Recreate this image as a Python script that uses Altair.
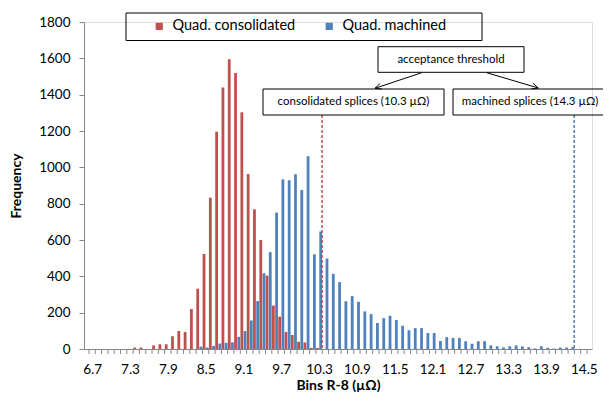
import altair as alt
import pandas as pd
import math

# ---------------- data ----------------
bins = [6.7, 6.8, 6.9, 7.0, 7.1, 7.2, 7.3, 7.4, 7.5, 7.6,
        7.7, 7.8, 7.9, 8.0, 8.1, 8.2, 8.3, 8.4, 8.5, 8.6,
        8.7, 8.8, 8.9, 9.0, 9.1, 9.2, 9.3, 9.4, 9.5, 9.6,
        9.7, 9.8, 9.9, 10.0, 10.1, 10.2, 10.3, 10.4, 10.5, 10.6,
        10.7, 10.8, 10.9, 11.0, 11.1, 11.2, 11.3, 11.4, 11.5, 11.6,
        11.7, 11.8, 11.9, 12.0, 12.1, 12.2, 12.3, 12.4, 12.5, 12.6,
        12.7, 12.8, 12.9, 13.0, 13.1, 13.2, 13.3, 13.4, 13.5, 13.6,
        13.7, 13.8, 13.9, 14.0, 14.1, 14.2, 14.3, 14.4, 14.5]

consolidated = [0, 0, 0, 0, 0, 0, 0, 8, 8, 0,
                20, 26, 26, 70, 99, 94, 220, 332, 523, 833,
                1196, 1439, 1595, 1519, 1303, 963, 769, 600, 404, 239,
                178, 94, 77, 40, 36, 6, 6, 0, 0, 0,
                0, 0, 0, 0, 0, 0, 0, 0, 0, 0,
                0, 0, 0, 0, 0, 0, 0, 0, 0, 0,
                0, 0, 0, 0, 0, 0, 0, 0, 0, 0,
                0, 0, 0, 0, 0, 0, 0, 0, 0]

machined = [0, 0, 0, 0, 0, 0, 0, 0, 0, 0,
            0, 0, 0, 0, 0, 0, 0, 13, 8, 17,
            30, 34, 37, 67, 99, 157, 264, 417, 533, 751,
            934, 929, 962, 875, 1061, 521, 647, 498, 414, 368,
            263, 291, 260, 207, 192, 143, 170, 183, 160, 128,
            103, 115, 115, 88, 88, 44, 65, 61, 61, 43,
            29, 43, 43, 20, 15, 9, 15, 20, 14, 10,
            3, 15, 7, 3, 8, 8, 10, 0, 0]

label_bins = [6.7, 7.3, 7.9, 8.5, 9.1, 9.7, 10.3, 10.9, 11.5, 12.1, 12.7, 13.3, 13.9, 14.5]
y_ticks = [0, 200, 400, 600, 800, 1000, 1200, 1400, 1600, 1800]
series_names = ["Quad. consolidated", "Quad. machined"]
thresholds = [10.3, 14.3]
threshold_labels = ["consolidated splices (10.3  µΩ)", "machined splices (14.3 µΩ)"]

RED = "#C0504D"
BLUE = "#4F81BD"
AXIS_GREY = "#868686"
FONT = "Lato"

W, H = 508, 327

df = pd.DataFrame({
    "bin": bins + bins,
    "series": [series_names[0]] * len(bins) + [series_names[1]] * len(bins),
    "count": consolidated + machined,
})

xscale = alt.Scale(domain=[6.65, 14.55], nice=False, zero=False)
yscale = alt.Scale(domain=[0, 1800], nice=False)
color = alt.Color(
    "series:N",
    scale=alt.Scale(domain=series_names, range=[RED, BLUE]),
    legend=alt.Legend(
        orient="none", legendX=68, legendY=-3, direction="horizontal",
        title=None, symbolType="square", symbolSize=52, symbolStrokeWidth=0,
        labelFontSize=14.5, labelFont=FONT, labelColor="#000000",
        columnPadding=26, labelOffset=6, padding=0,
    ),
)

xaxis = alt.Axis(values=label_bins, format=".1f", ticks=False, grid=False,
                 labelOverlap=False, labelFlush=False, labelBound=False,
                 labelFontSize=13.5, labelColor="#000000", labelPadding=13,
                 domainColor=AXIS_GREY, title="Bins R-8 (µΩ)", titleFontSize=14,
                 titleFontWeight="bold", titleColor="#000000", titlePadding=3,
                 labelFont=FONT, titleFont=FONT)
yaxis = alt.Axis(values=y_ticks, format="d", grid=False, tickSize=5, tickColor=AXIS_GREY,
                 labelOverlap=False, labelFlush=False, labelBound=False,
                 domainColor=AXIS_GREY, labelFontSize=13.5, labelColor="#000000",
                 labelPadding=9, title="Frequency", titleFontSize=14,
                 titleFontWeight="bold", titleColor="#000000", titlePadding=15,
                 labelFont=FONT, titleFont=FONT)

X = lambda f: alt.X(f, scale=xscale, axis=xaxis)
Y = lambda f: alt.Y(f, scale=yscale, axis=yaxis)

base = alt.Chart(df)
red_bars = base.transform_filter(alt.datum.series == series_names[0]).mark_bar(
    width=2.8, xOffset=-1.6
).encode(x=X("bin:Q"), y=Y("count:Q"), color=color)
blue_bars = base.transform_filter(alt.datum.series == series_names[1]).mark_bar(
    width=2.8, xOffset=1.6
).encode(x=X("bin:Q"), y=Y("count:Q"), color=color)

# category boundary ticks on x axis
bounds = pd.DataFrame({"b": [round(b - 0.05, 2) for b in bins] + [bins[-1] + 0.05]})
xticks = alt.Chart(bounds).mark_rule(color=AXIS_GREY, strokeWidth=1).encode(
    x=X("b:Q"),
    y=alt.value(H), y2=alt.value(H + 5),
)

# threshold dashed lines
thr = pd.DataFrame({"value": thresholds, "colour": [RED, BLUE]})
thr_rules = alt.Chart(thr).mark_rule(strokeDash=[3, 2], strokeWidth=1.5, xOffset=3).encode(
    x=X("value:Q"),
    y=alt.value(93), y2=alt.value(H),
    stroke=alt.Stroke("colour:N", scale=None),
)

# annotation boxes (pixel positions)
boxes = pd.DataFrame({
    "x0": [42, 294, 179, 369],
    "x1": [398, 440, 360, 523],
    "y0": [-9, 24.7, 67, 67],
    "y1": [18.5, 50.3, 93, 93],
})
box_layer = alt.Chart(boxes).mark_rect(fill="white", fillOpacity=0, stroke="#000000",
                                       strokeWidth=1).encode(
    x=alt.X("x0:Q", scale=None, axis=None), x2="x1:Q",
    y=alt.Y("y0:Q", scale=None, axis=None), y2="y1:Q",
)

texts = pd.DataFrame({
    "tx": [367, 269.5, 446],
    "ty": [37.5, 80, 80],
    "t": ["acceptance threshold"] + threshold_labels,
})
text_layer = alt.Chart(texts).mark_text(font=FONT, fontSize=11.5, color="#000000",
                                        baseline="middle", align="center").encode(
    x=alt.X("tx:Q", scale=None, axis=None), y=alt.Y("ty:Q", scale=None, axis=None), text="t:N",
)

# arrows
def arrow(x0, y0, x1, y1, L=7, ang=25):
    dx, dy = x1 - x0, y1 - y0
    n = math.hypot(dx, dy)
    bx, by = -dx / n, -dy / n
    segs = [(x0, y0, x1, y1)]
    for s in (1, -1):
        a = math.radians(ang) * s
        rx = bx * math.cos(a) - by * math.sin(a)
        ry = bx * math.sin(a) + by * math.cos(a)
        segs.append((x1, y1, x1 + L * rx, y1 + L * ry))
    return segs

segs = arrow(337.7, 50.7, 291, 66.3) + arrow(402.7, 50.7, 454.3, 66)
arr = pd.DataFrame(segs, columns=["ax", "ay", "ax2", "ay2"])
arrow_layer = alt.Chart(arr).mark_rule(color="#000000", strokeWidth=1).encode(
    x=alt.X("ax:Q", scale=None, axis=None), y=alt.Y("ay:Q", scale=None, axis=None),
    x2="ax2:Q", y2="ay2:Q",
)

chart = alt.layer(
    red_bars, blue_bars, xticks, thr_rules, box_layer, text_layer, arrow_layer
).resolve_scale(x="shared", y="shared").properties(
    width=W, height=H,
    autosize=alt.AutoSizeParams(type="none"),
    padding={"left": 76, "top": 14, "right": 11, "bottom": 46},
).configure_view(stroke=None).configure(font=FONT).configure_axis(labelOverlap=False)

chart.save("out.html", embed_options={"renderer": "svg", "actions": False})
